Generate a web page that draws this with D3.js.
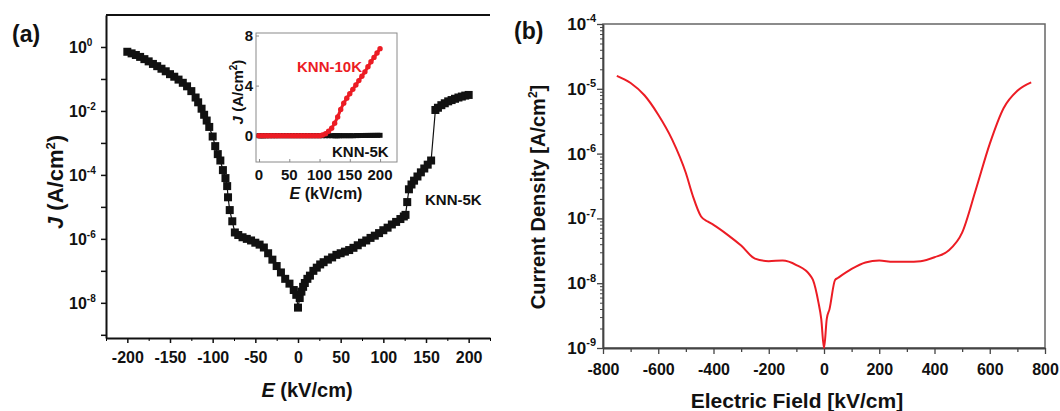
<!DOCTYPE html>
<html><head><meta charset="utf-8">
<script src="https://cdn.jsdelivr.net/npm/d3@7"></script>
<style>
body{margin:0;background:#fff}
svg{display:block;font-family:Arial,"Liberation Sans",Helvetica,sans-serif;font-weight:bold}
</style>
</head><body>
<svg id="c" width="1060" height="411"></svg>
<script>
// ---------- Panel (a): KNN-5K J-E, log scale ----------
const aE = [-200,-195,-190,-185,-180,-175,-170,-165,-160,-155,-150,-145,-140,-135,-130,-125,-120,
  -117,-113,-110,-107,-104,-100,-97,-94,-91,-88,-85,-83,-82,-80,-77,-74,
  -70,-65,-60,-55,-50,-45,-40,-35,-30,-25,-20,-15,-10,-5,
  -2,0,2,4,6,8,11,14,18,22,26,30,
  35,40,45,50,55,60,65,70,75,80,85,90,95,100,105,110,115,120,
  124,126,128,130,133,136,140,144,148,152,156,
  161,164,168,172,176,180,184,188,192,196,200];
const aLog10J = [-0.15,-0.2,-0.25,-0.31,-0.38,-0.45,-0.53,-0.6,-0.68,-0.76,-0.85,-0.93,-1.02,-1.12,-1.23,-1.38,-1.58,
  -1.73,-1.93,-2.12,-2.3,-2.5,-2.8,-3.1,-3.35,-3.55,-3.85,-4.1,-4.35,-4.7,-5.1,-5.45,-5.8,
  -5.88,-5.95,-6.0,-6.05,-6.12,-6.18,-6.27,-6.45,-6.65,-6.85,-7.05,-7.25,-7.4,-7.6,
  -7.75,-8.15,-7.85,-7.65,-7.5,-7.38,-7.25,-7.15,-7.0,-6.9,-6.8,-6.73,
  -6.65,-6.58,-6.5,-6.45,-6.4,-6.35,-6.28,-6.2,-6.12,-6.05,-5.97,-5.9,-5.82,-5.73,-5.65,-5.55,-5.47,-5.38,
  -5.3,-5.25,-4.85,-4.45,-4.3,-4.18,-4.05,-3.92,-3.8,-3.68,-3.55,
  -1.97,-1.9,-1.82,-1.76,-1.7,-1.66,-1.62,-1.58,-1.55,-1.52,-1.5];
const aXTicks = [-200,-150,-100,-50,0,50,100,150,200];
const aYTickExp = [0,-2,-4,-6,-8];

// ---------- Inset: linear J-E ----------
const insE = [0,5,10,15,20,25,30,35,40,45,50,55,60,65,70,75,80,85,90,95,100,
  105,110,115,120,125,130,135,140,145,150,155,160,165,170,175,180,185,190,195,200];
const insJ10K = [0,0,0,0,0,0,0,0,0,0,0,0,0,0,0,0,0,0,0,0,0,
  0.05,0.15,0.35,0.6,1.0,1.5,2.1,2.6,3.0,3.35,3.7,4.05,4.4,4.75,5.1,5.5,5.9,6.25,6.6,6.95];
const insXTicks = [0,50,100,150,200];
const insYTicks = [0,4,8];

// ---------- Panel (b): current density vs field ----------
const bE = [-750,-700,-650,-600,-550,-500,-475,-445,-420,-400,-350,-300,-250,-200,-150,-100,-50,-40,-20,-10,
  0,10,20,40,50,100,150,200,250,300,350,400,450,500,550,600,650,700,750];
const bLog10J = [-4.80,-4.91,-5.10,-5.40,-5.78,-6.30,-6.65,-6.97,-7.05,-7.10,-7.25,-7.42,-7.62,-7.66,-7.65,-7.72,-7.88,-7.95,-8.3,-8.55,
  -9.0,-8.55,-8.4,-7.95,-7.92,-7.78,-7.68,-7.65,-7.67,-7.67,-7.66,-7.6,-7.5,-7.22,-6.55,-5.85,-5.3,-5.03,-4.9];
const bXTicks = [-800,-600,-400,-200,0,200,400,600,800];
const bYTickExp = [-4,-5,-6,-7,-8,-9];

const svg = d3.select("#c");
const INK = "#111";
const RED = "#ec1c24";

function supLabel(g, x, y, exp, anchor, fs, efs) {
  const t = g.append("text").attr("x", x).attr("y", y).attr("text-anchor", anchor)
    .attr("fill", INK).attr("font-size", fs);
  t.append("tspan").text("10");
  t.append("tspan").attr("dy", -fs*0.45).attr("font-size", efs).text(String(exp));
}

// ================= Panel (a) =================
{
  const x = d3.scaleLinear().domain([-225, 225]).range([106, 490]);
  const y = d3.scaleLog().domain([Math.pow(10,-9.1), 10]).range([338, 15]);
  const g = svg.append("g");

  g.append("line").attr("x1", 106).attr("x2", 490).attr("y1", 15).attr("y2", 15)
    .attr("stroke", INK).attr("stroke-width", 2);

  const xa = g.append("g").attr("transform", "translate(0,338)")
    .call(d3.axisBottom(x).tickValues(aXTicks).tickSize(5).tickSizeOuter(0).tickFormat(d => String(d)));
  g.append("g").attr("transform", "translate(0,338)")
    .call(d3.axisBottom(x).tickValues(d3.range(-225, 226, 50)).tickSize(3).tickSizeOuter(0).tickFormat(""))
    .call(s => s.select(".domain").remove());
  xa.select(".domain").attr("stroke", INK).attr("stroke-width", 2);
  xa.selectAll(".tick line").attr("stroke", INK).attr("stroke-width", 1.5);
  xa.selectAll(".tick text").attr("font-size", 16).attr("font-family", null).attr("fill", INK).attr("dy", "1.05em");

  const decs = d3.range(-9, 1).map(e => Math.pow(10, e));
  const ya = g.append("g").attr("transform", "translate(106,0)")
    .call(d3.axisLeft(y).tickValues(decs).tickSize(5).tickSizeOuter(0).tickFormat(""));
  ya.select(".domain").attr("stroke", INK).attr("stroke-width", 2);
  ya.selectAll(".tick line").attr("stroke", INK).attr("stroke-width", 1.5);
  aYTickExp.forEach(e => supLabel(g, 69, y(Math.pow(10, e)) + 6, e, "start", 16, 10));

  const pts = aE.map((e, i) => [x(e), y(Math.pow(10, aLog10J[i]))]);
  g.append("path").attr("d", d3.line()(pts)).attr("fill", "none").attr("stroke", INK).attr("stroke-width", 1.2);
  g.selectAll("rect.m").data(pts).join("rect").attr("class", "m")
    .attr("x", d => d[0] - 4).attr("y", d => d[1] - 4).attr("width", 8).attr("height", 8).attr("fill", INK);

  g.append("text").attr("x", 12).attr("y", 42).attr("font-size", 23).attr("fill", INK).text("(a)");
  const xl = g.append("text").attr("x", 307).attr("y", 397).attr("text-anchor", "middle").attr("font-size", 20).attr("fill", INK);
  xl.append("tspan").attr("font-style", "italic").text("E");
  xl.append("tspan").text(" (kV/cm)");
  const yl = g.append("text").attr("transform", "translate(63,182) rotate(-90)").attr("text-anchor", "middle").attr("font-size", 22).attr("fill", INK);
  yl.append("tspan").attr("font-style", "italic").text("J");
  yl.append("tspan").text(" (A/cm");
  yl.append("tspan").attr("dy", -8).attr("font-size", 13).text("2");
  yl.append("tspan").attr("dy", 8).text(")");
  g.append("text").attr("x", 425).attr("y", 205).attr("font-size", 15).attr("fill", INK).text("KNN-5K");
}

// ================= Inset =================
{
  const x = d3.scaleLinear().domain([-5, 228]).range([256, 397]);
  const y = d3.scaleLinear().domain([-2.1, 8.2]).range([162, 33]);
  const g = svg.append("g");
  g.append("rect").attr("x", 256).attr("y", 33).attr("width", 141).attr("height", 129)
    .attr("fill", "#fff").attr("stroke", "#8a8a8a").attr("stroke-width", 1);

  g.append("g").attr("transform", "translate(0,162)")
    .call(d3.axisTop(x).tickValues(insXTicks).tickSize(3).tickSizeOuter(0).tickFormat(""))
    .call(s => { s.select(".domain").remove(); s.selectAll("line").attr("stroke", "#8a8a8a"); });
  g.append("g").attr("transform", "translate(256,0)")
    .call(d3.axisRight(y).tickValues(insYTicks).tickSize(3).tickSizeOuter(0).tickFormat(""))
    .call(s => { s.select(".domain").remove(); s.selectAll("line").attr("stroke", "#8a8a8a"); });

  insXTicks.forEach(v => g.append("text").attr("x", x(v)).attr("y", 180).attr("text-anchor", "middle")
    .attr("font-size", 15).attr("fill", INK).text(String(v)));
  insYTicks.forEach(v => g.append("text").attr("x", 253).attr("y", y(v) + 5).attr("text-anchor", "end")
    .attr("font-size", 15).attr("fill", INK).text(String(v)));

  const blk = aE.map((e, i) => [e, Math.pow(10, aLog10J[i])]).filter(d => d[0] >= 0).map(d => [x(d[0]), y(d[1])]);
  g.append("path").attr("d", d3.line()(blk)).attr("fill", "none").attr("stroke", INK).attr("stroke-width", 3);
  g.selectAll("rect.b").data(blk).join("rect").attr("class", "b")
    .attr("x", d => d[0] - 2.5).attr("y", d => d[1] - 2.5).attr("width", 5).attr("height", 5).attr("fill", INK);

  const red = insE.map((e, i) => [x(e), y(insJ10K[i])]);
  g.append("path").attr("d", d3.line()(red)).attr("fill", "none").attr("stroke", RED).attr("stroke-width", 3);
  g.selectAll("circle.r").data(red).join("circle").attr("class", "r")
    .attr("cx", d => d[0]).attr("cy", d => d[1]).attr("r", 2.7).attr("fill", RED);

  g.append("text").attr("x", 297).attr("y", 72).attr("font-size", 15).attr("fill", RED).text("KNN-10K");
  g.append("text").attr("x", 332).attr("y", 157).attr("font-size", 15).attr("fill", INK).text("KNN-5K");

  const xl = g.append("text").attr("x", 326).attr("y", 199).attr("text-anchor", "middle").attr("font-size", 16).attr("fill", INK);
  xl.append("tspan").attr("font-style", "italic").text("E");
  xl.append("tspan").text(" (kV/cm)");
  const yl = g.append("text").attr("transform", "translate(243,92) rotate(-90)").attr("text-anchor", "middle").attr("font-size", 15).attr("fill", INK);
  yl.append("tspan").attr("font-style", "italic").text("J");
  yl.append("tspan").text(" (A/cm");
  yl.append("tspan").attr("dy", -6).attr("font-size", 10).text("2");
  yl.append("tspan").attr("dy", 6).text(")");
}

// ================= Panel (b) =================
{
  const x = d3.scaleLinear().domain([-800, 800]).range([603, 1045]);
  const y = d3.scaleLog().domain([1e-9, 1e-4]).range([348, 24]);
  const g = svg.append("g");
  const AX = "#444";

  g.append("rect").attr("x", 603).attr("y", 24).attr("width", 442).attr("height", 324)
    .attr("fill", "none").attr("stroke", "#666").attr("stroke-width", 1.5);

  const xa = g.append("g").attr("transform", "translate(0,348)")
    .call(d3.axisBottom(x).tickValues(bXTicks).tickSize(6).tickSizeOuter(0).tickFormat(d => String(d)));
  g.append("g").attr("transform", "translate(0,348)")
    .call(d3.axisBottom(x).tickValues(d3.range(-700, 701, 200)).tickSize(4).tickSizeOuter(0).tickFormat(""))
    .call(s => { s.select(".domain").remove(); s.selectAll("line").attr("stroke", AX).attr("stroke-width", 1.3); });
  xa.select(".domain").attr("stroke", AX).attr("stroke-width", 1.8);
  xa.selectAll(".tick line").attr("stroke", AX).attr("stroke-width", 1.3);
  xa.selectAll(".tick text").attr("font-size", 16).attr("font-family", null).attr("fill", INK).attr("dy", "1.1em");

  const minors = [];
  for (let e = -9; e < -4; e++) for (let m = 2; m < 10; m++) minors.push(m * Math.pow(10, e));
  const ya = g.append("g").attr("transform", "translate(603,0)")
    .call(d3.axisLeft(y).tickValues(bYTickExp.map(e => Math.pow(10, e))).tickSize(6).tickSizeOuter(0).tickFormat(""));
  g.append("g").attr("transform", "translate(603,0)")
    .call(d3.axisLeft(y).tickValues(minors).tickSize(3).tickSizeOuter(0).tickFormat(""))
    .call(s => { s.select(".domain").remove(); s.selectAll("line").attr("stroke", AX).attr("stroke-width", 1); });
  ya.select(".domain").attr("stroke", AX).attr("stroke-width", 1.8);
  ya.selectAll(".tick line").attr("stroke", AX).attr("stroke-width", 1.3);
  bYTickExp.forEach(e => supLabel(g, 596, y(Math.pow(10, e)) + 6, e, "end", 17, 11));

  const pts = bE.map((e, i) => [x(e), y(Math.pow(10, bLog10J[i]))]);
  g.append("path").attr("d", d3.line().curve(d3.curveMonotoneX)(pts)).attr("fill", "none")
    .attr("stroke", RED).attr("stroke-width", 2);

  g.append("text").attr("x", 514).attr("y", 39).attr("font-size", 23).attr("fill", INK).text("(b)");
  g.append("text").attr("x", 797).attr("y", 408).attr("text-anchor", "middle").attr("font-size", 21).attr("fill", INK)
    .text("Electric Field [kV/cm]");
  const yl = g.append("text").attr("transform", "translate(545,197) rotate(-90)").attr("text-anchor", "middle").attr("font-size", 20).attr("fill", INK);
  yl.append("tspan").text("Current Density [A/cm");
  yl.append("tspan").attr("dy", -8).attr("font-size", 12).text("2");
  yl.append("tspan").attr("dy", 8).text("]");
}
</script>
</body></html>
